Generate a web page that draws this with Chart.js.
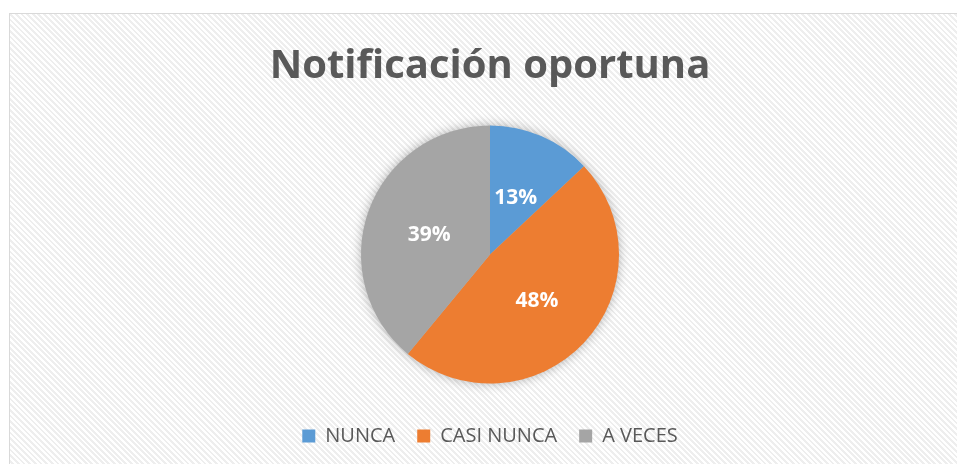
<!DOCTYPE html>
<html>
<head>
<meta charset="utf-8">
<script src="https://cdn.jsdelivr.net/npm/chart.js@4"></script>
<style>
html,body{margin:0;padding:0;width:957px;height:464px;overflow:hidden;background:#fff;}
#box{position:absolute;left:9px;top:13px;width:962px;height:470px;border:1px solid #d9d9d9;box-sizing:border-box;
background:repeating-linear-gradient(45deg,#ffffff 0px,#ffffff 2px,#eeeeee 2px,#eeeeee 4px);}
#wrap{position:absolute;left:9px;top:13px;width:962px;height:451px;}
</style>
</head>
<body>
<div id="box"></div>
<div id="wrap"><canvas id="c"></canvas></div>
<script>
const titleText = "Notificación oportuna";
const categories = ["NUNCA", "CASI NUNCA", "A VECES"];
const values = [13, 48, 39];
const colors = ["#5B9BD5", "#ED7D31", "#A5A5A5"];

const shadowPlugin = {
  id: 'shadowPlugin',
  beforeDatasetsDraw(chart) {
    const arc = chart.getDatasetMeta(0).data[0];
    if (!arc) return;
    const ctx = chart.ctx;
    ctx.save();
    ctx.shadowColor = 'rgba(0,0,0,0.35)';
    ctx.shadowBlur = 12;
    ctx.fillStyle = '#bbbbbb';
    ctx.beginPath();
    ctx.arc(arc.x, arc.y, arc.outerRadius - 1, 0, Math.PI * 2);
    ctx.fill();
    ctx.restore();
  }
};

const labelPlugin = {
  id: 'labelPlugin',
  afterDatasetsDraw(chart) {
    const ctx = chart.ctx;
    const meta = chart.getDatasetMeta(0);
    const total = values.reduce((a, b) => a + b, 0);
    ctx.save();
    ctx.fillStyle = '#ffffff';
    ctx.font = 'bold 21px "Open Sans", sans-serif';
    ctx.textAlign = 'center';
    ctx.textBaseline = 'middle';
    meta.data.forEach((arc, i) => {
      const p = arc.tooltipPosition();
      ctx.fillText(Math.round(values[i] / total * 100) + '%', p.x, p.y + 2.5);
    });
    ctx.restore();
  }
};

new Chart(document.getElementById('c'), {
  type: 'pie',
  data: {
    labels: categories,
    datasets: [{ data: values, backgroundColor: colors, borderWidth: 0, radius: 129 }]
  },
  options: {
    responsive: true,
    maintainAspectRatio: false,
    animation: false,
    layout: { padding: { top: 0, bottom: 8 } },
    plugins: {
      title: {
        display: true,
        text: titleText,
        color: '#595959',
        font: { family: '"Open Sans", sans-serif', size: 40, weight: 'bold' },
        padding: { top: 30, bottom: 14 }
      },
      legend: {
        position: 'bottom',
        labels: {
          color: '#595959',
          font: { family: '"Open Sans", sans-serif', size: 20 },
          boxWidth: 13, boxHeight: 13, padding: 22
        }
      },
      tooltip: { enabled: false }
    }
  },
  plugins: [shadowPlugin, labelPlugin]
});
</script>
</body>
</html>
